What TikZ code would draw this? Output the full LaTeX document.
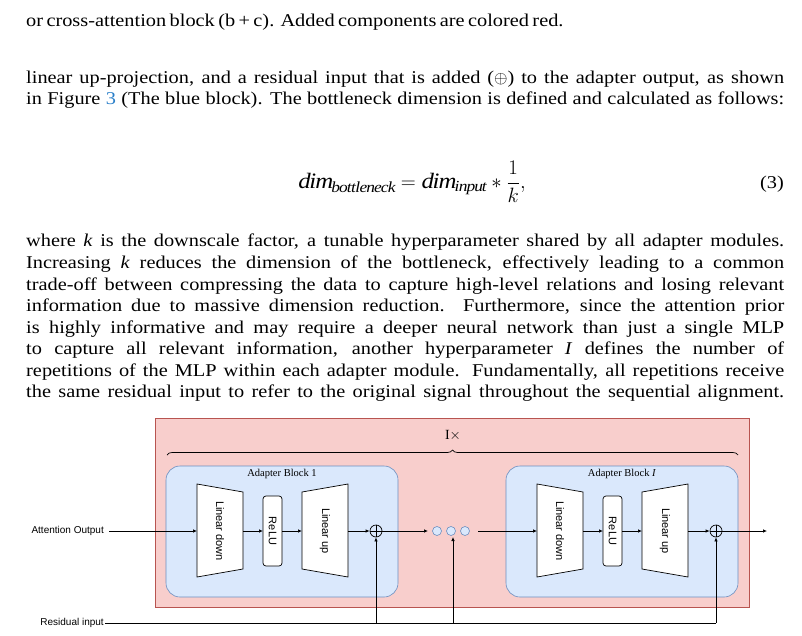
\documentclass[tikz,border=0pt]{standalone}
\usepackage{fontspec}
\setmainfont{Liberation Serif}[FakeStretch=1.13]
\newfontfamily\plainserif{Liberation Serif}
\setsansfont{Liberation Sans}
\usetikzlibrary{arrows.meta,decorations.pathreplacing}
\definecolor{pinkf}{HTML}{F8CECC}
\definecolor{pinkd}{HTML}{B85450}
\definecolor{bluef}{HTML}{DAE8FC}
\definecolor{blued}{HTML}{6C8EBF}
\newcommand{\fl}[1]{\hbox to 758pt{#1}}
\begin{document}
\begin{tikzpicture}[x=1pt,y=-1pt,
  txt/.style={anchor=west,inner sep=0pt,font=\fontsize{18}{21}\selectfont},
  lbl/.style={font=\sffamily\fontsize{10}{12}\selectfont,inner sep=1pt},
  blk/.style={draw=blued,fill=bluef,rounded corners=14pt,line width=0.6pt},
  shp/.style={draw=black,fill=white,line width=0.7pt},
  arr/.style={-{Latex[length=4pt,width=3.5pt]},line width=0.7pt},
  lnn/.style={line width=0.7pt}]
\useasboundingbox (0,0) rectangle (802,636);
% text
\node[txt] (t0) at (26,22) {\hbox to 457pt{or cross-attention block (b + c). Added components are colored red.}};
\node[txt] (t1) at (26,79) {\fl{linear up-projection, and a residual input that is added ($\oplus$) to the adapter output, as shown}};
\node[txt] (t2) at (26,100) {\fl{in Figure \textcolor[HTML]{2A7FC9}{3} (The blue block). The bottleneck dimension is defined and calculated as follows:}};
\node[inner sep=0pt,font=\fontsize{22}{24}\selectfont] (eq) at (412,182) {$\displaystyle\mathit{dim}_{\mathit{bottleneck}}=\mathit{dim}_{\mathit{input}}*\frac{1}{k},$};
\node[inner sep=0pt,anchor=east,font=\fontsize{18}{21}\selectfont] (eqn) at (784,184) {(3)};
\node[txt] (p1) at (26,242) {\fl{where \textit{k} is the downscale factor, a tunable hyperparameter shared by all adapter modules.}};
\node[txt] (p2) at (26,264) {\fl{Increasing \textit{k} reduces the dimension of the bottleneck, effectively leading to a common}};
\node[txt] (p3) at (26,286) {\fl{trade-off between compressing the data to capture high-level relations and losing relevant}};
\node[txt] (p4) at (26,307) {\fl{information due to massive dimension reduction. Furthermore, since the attention prior}};
\node[txt] (p5) at (26,329) {\fl{is highly informative and may require a deeper neural network than just a single MLP}};
\node[txt] (p6) at (26,350) {\fl{to capture all relevant information, another hyperparameter \textit{I} defines the number of}};
\node[txt] (p7) at (26,372) {\fl{repetitions of the MLP within each adapter module. Fundamentally, all repetitions receive}};
\node[txt] (p8) at (26,393) {\fl{the same residual input to refer to the original signal throughout the sequential alignment.}};
% diagram
\fill[fill=pinkf,draw=pinkd,line width=0.6pt] (155,418) rectangle (749,607);
\draw[lnn,decorate,decoration={brace,amplitude=5pt}] (167,455) -- (738,455);
\node[font=\plainserif\fontsize{14}{16}\selectfont,inner sep=0pt] (ix) at (453,436) {I$\times$};
\foreach \o/\n/\t in {0/a/1,340/b/\textit{I}}{
 \begin{scope}[xshift=\o pt]
 \draw[blk] (166,466) rectangle (398,597);
 \node[font=\plainserif\fontsize{10.5}{12}\selectfont,inner sep=0pt] (h\n) at (282,474) {Adapter Block \t};
 \draw[shp] (197,484) -- (243,492) -- (243,569) -- (197,577) -- cycle;
 \node[lbl,rotate=-90,font=\sffamily\fontsize{11}{12}\selectfont] (ld\n) at (220,531) {Linear down};
 \draw[shp,rounded corners=3pt] (263,496) rectangle (282,566);
 \node[lbl,rotate=-90,font=\sffamily\fontsize{11}{12}\selectfont] (re\n) at (272.5,531) {ReLU};
 \draw[shp] (302,492) -- (348,484) -- (348,577) -- (302,569) -- cycle;
 \node[lbl,rotate=-90,font=\sffamily\fontsize{11}{12}\selectfont] (lu\n) at (325,531) {Linear up};
 \node[draw,circle,minimum size=12pt,inner sep=0pt,line width=0.7pt,fill=none] (pl\n) at (376,531) {};
 \draw[lnn] (pl\n.north) -- (pl\n.south) (pl\n.west) -- (pl\n.east);
 \draw[arr] (243,531) -- (263,531);
 \draw[arr] (282,531) -- (302,531);
 \draw[arr] (348,531) -- (pl\n.west);
 \end{scope}}
\foreach \x/\n in {437/1,451/2,465/3}
 \node[draw=blued,fill=bluef,circle,minimum size=9pt,inner sep=0pt,line width=0.6pt] (d\n) at (\x,531) {};
\node[lbl,anchor=east] (ao) at (105,531) {Attention Output};
\node[lbl,anchor=east] (ri) at (105,623) {Residual input};
\draw[arr] ([xshift=4pt]ao.east) -- (197,531);
\draw[arr] (pla.east) -- (428,531);
\draw[arr] (478,531) -- (537,531);
\draw[arr] (plb.east) -- (767,531);
\coordinate (c1) at (376,623);
\coordinate (c2) at (453,623);
\coordinate (c3) at (716,623);
\draw[lnn] (ri.east) -- (c3);
\draw[arr] (c1) -- (pla.south);
\draw[arr] (c2) -- (453,537);
\draw[arr] (c3) -- (plb.south);
\end{tikzpicture}
\end{document}
